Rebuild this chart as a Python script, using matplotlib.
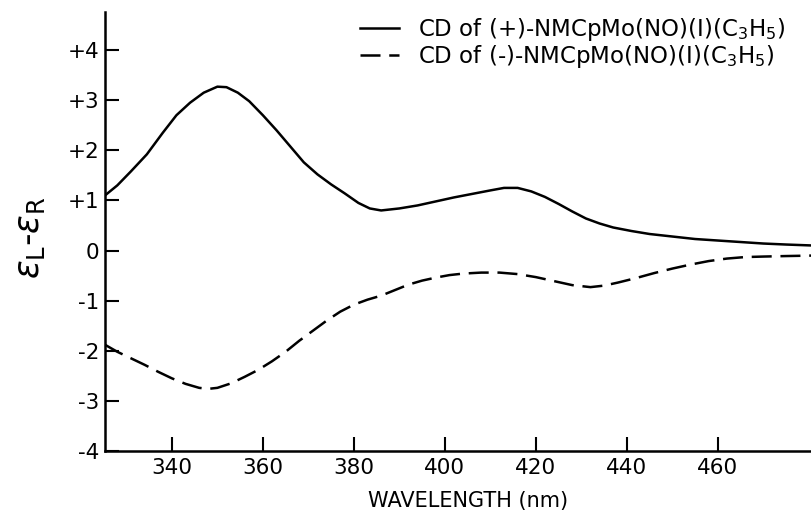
import matplotlib
matplotlib.use("Agg")
import matplotlib.pyplot as plt
from matplotlib.lines import Line2D

# Data
wl_plus = [325.3, 328, 331, 334.5, 338, 341, 344, 347, 350, 352, 354.5, 357, 360, 363, 366,
           369, 372, 375, 378, 381, 383.5, 386, 390, 394, 398, 402, 406, 410, 413, 416, 419,
           422, 425, 428, 431, 434, 437, 441, 445, 450, 455, 460, 465, 470, 475, 481]
cd_plus = [1.10, 1.30, 1.58, 1.92, 2.35, 2.70, 2.95, 3.15, 3.27, 3.26, 3.15, 2.98, 2.70, 2.40, 2.08,
           1.76, 1.52, 1.32, 1.14, 0.95, 0.84, 0.80, 0.84, 0.90, 0.98, 1.06, 1.13, 1.20, 1.25, 1.25, 1.18,
           1.07, 0.93, 0.78, 0.64, 0.54, 0.46, 0.39, 0.33, 0.28, 0.23, 0.20, 0.17, 0.14, 0.12, 0.10]

wl_minus = [325.3, 328, 331, 334, 337, 340, 343, 346, 348, 350, 353, 356, 359, 362, 365, 368,
            371, 374, 377, 380, 383, 386, 389, 392, 395, 398, 401, 404, 408, 412, 416, 420,
            424, 428, 432, 435, 438, 442, 446, 450, 454, 458, 462, 466, 470, 475, 481]
cd_minus = [-1.88, -2.02, -2.15, -2.28, -2.42, -2.55, -2.66, -2.74, -2.76, -2.74, -2.65, -2.52, -2.38, -2.21, -2.02, -1.80,
            -1.60, -1.40, -1.22, -1.08, -0.98, -0.90, -0.79, -0.68, -0.60, -0.54, -0.49, -0.46, -0.44, -0.44, -0.47, -0.53,
            -0.61, -0.69, -0.73, -0.70, -0.64, -0.55, -0.45, -0.36, -0.28, -0.21, -0.16, -0.13, -0.12, -0.11, -0.10]

x_ticks = [340, 360, 380, 400, 420, 440, 460]
y_ticks = [-4, -3, -2, -1, 0, 1, 2, 3, 4]
y_tick_labels = ["-4", "-3", "-2", "-1", "0", "+1", "+2", "+3", "+4"]
label_plus = r"CD of (+)-NMCpMo(NO)(I)(C$_3$H$_5$)"
label_minus = r"CD of (-)-NMCpMo(NO)(I)(C$_3$H$_5$)"

fig = plt.figure(figsize=(8.12, 5.14), dpi=100)
ax = fig.add_axes([105/812, 63/514, 707/812, 439/514])

ax.plot(wl_plus, cd_plus, color="black", lw=1.8, solid_joinstyle="round")
ax.plot(wl_minus, cd_minus, color="black", lw=1.8, dashes=(8, 3.5))

ax.set_xlim(325.3, 480.7)
ax.set_ylim(-4.0, 4.76)

ax.set_xticks(x_ticks)
ax.set_yticks(y_ticks)
ax.set_yticklabels(y_tick_labels)
ax.tick_params(axis="both", direction="in", length=10, width=1.5, labelsize=15.5)
ax.tick_params(axis="x", pad=5)
ax.tick_params(axis="y", pad=4)

for s in ["top", "right"]:
    ax.spines[s].set_visible(False)
for s in ["left", "bottom"]:
    ax.spines[s].set_linewidth(1.8)

ax.set_xlabel("WAVELENGTH (nm)", fontsize=15)
ax.xaxis.set_label_coords((468 - 105) / 707, -(491 - 451) / 439)
ax.set_ylabel(r"$\epsilon_{\rm L}$-$\epsilon_{\rm R}$", fontsize=25)
ax.yaxis.set_label_coords(-(105 - 47) / 707, (451 - 238) / 439)

handles = [Line2D([], [], color="black", lw=1.8),
           Line2D([], [], color="black", lw=1.8, dashes=(8, 3.5))]
fig.legend(handles, [label_plus, label_minus], loc="upper right",
           bbox_to_anchor=(785/812, 1 - 16/514), frameon=False, fontsize=16.5,
           handlelength=1.7, handletextpad=0.8, labelspacing=0.0, borderaxespad=0,
           borderpad=0)

fig.savefig("out.png", dpi=100)
